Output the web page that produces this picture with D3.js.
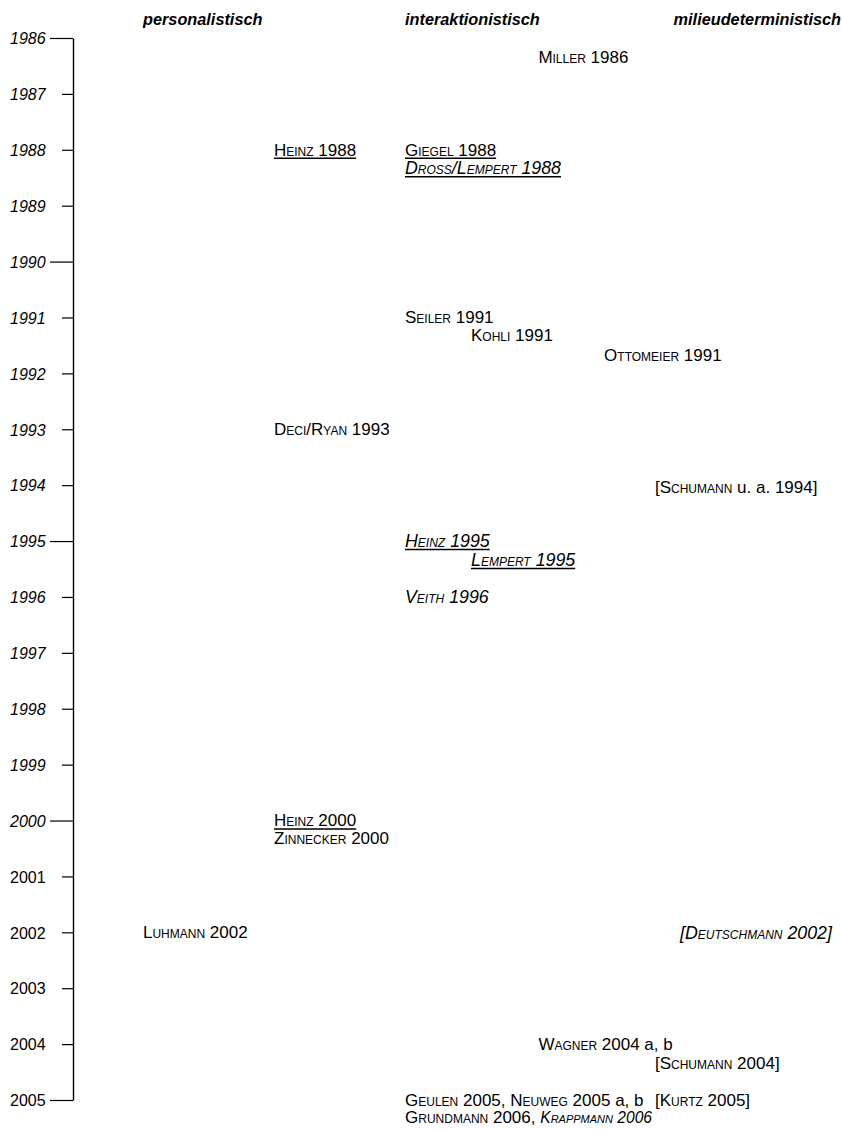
<!DOCTYPE html>
<html><head><meta charset="utf-8">
<script src="https://cdn.jsdelivr.net/npm/d3@7"></script>
<style>body{margin:0;background:#fff} text{font-family:"Liberation Sans",Arial,sans-serif;fill:#000}</style>
</head><body><svg id="c" width="842" height="1129"></svg>
<script>
// ---- data ----
const yearTicks = [1986,1987,1988,1989,1990,1991,1992,1993,1994,1995,1996,1997,1998,1999,2000,2001,2002,2003,2004,2005];
const majorYears = [1986,1990,1995,2000,2005];
const italicYears = [1986,1987,1988,1989,1990,1991,1992,1993,1994,1995,1996,1997,1998,1999,2000];
const columnNames = ["personalistisch","interaktionistisch","milieudeterministisch"];
const columnPos = [0,1,2];
// parts: [text, smallCaps, italic]
const entries = [
  {pos:1.485, year:1986.34, underline:false, parts:[["Miller",1,0],[" 1986",0,0]]},
  {pos:0.5,   year:1988.0,  underline:true,  parts:[["Heinz",1,0],[" 1988",0,0]]},
  {pos:1.0,   year:1988.0,  underline:true,  parts:[["Giegel",1,0],[" 1988",0,0]]},
  {pos:1.0,   year:1988.33, underline:true,  parts:[["Dross/Lempert",1,1],[" 1988",0,1]]},
  {pos:1.0,   year:1991.0,  underline:false, parts:[["Seiler",1,0],[" 1991",0,0]]},
  {pos:1.24,  year:1991.31, underline:false, parts:[["Kohli",1,0],[" 1991",0,0]]},
  {pos:1.724, year:1991.67, underline:false, parts:[["Ottomeier",1,0],[" 1991",0,0]]},
  {pos:0.5,   year:1993.0,  underline:false, parts:[["Deci/Ryan",1,0],[" 1993",0,0]]},
  {pos:1.909, year:1994.03, underline:false, parts:[["[",0,0],["Schumann",1,0],[" u. a. 1994]",0,0]]},
  {pos:1.0,   year:1995.0,  underline:true,  parts:[["Heinz",1,1],[" 1995",0,1]]},
  {pos:1.24,  year:1995.34, underline:true,  parts:[["Lempert",1,1],[" 1995",0,1]]},
  {pos:1.0,   year:1996.0,  underline:false, parts:[["Veith",1,1],[" 1996",0,1]]},
  {pos:0.5,   year:2000.0,  underline:true,  parts:[["Heinz",1,0],[" 2000",0,0]]},
  {pos:0.5,   year:2000.32, underline:false, parts:[["Zinnecker",1,0],[" 2000",0,0]]},
  {pos:0.0,   year:2002.0,  underline:false, parts:[["Luhmann",1,0],[" 2002",0,0]]},
  {pos:2.0,   year:2002.0,  underline:false, parts:[["[",0,1],["Deutschmann",1,1],[" 2002]",0,1]]},
  {pos:1.485, year:2004.0,  underline:false, parts:[["Wagner",1,0],[" 2004 a, b",0,0]]},
  {pos:1.909, year:2004.33, underline:false, parts:[["[",0,0],["Schumann",1,0],[" 2004]",0,0]]},
  {pos:1.0,   year:2005.0,  underline:false, parts:[["Geulen",1,0],[" 2005, ",0,0],["Neuweg",1,0],[" 2005 a, b",0,0]]},
  {pos:1.909, year:2005.0,  underline:false, parts:[["[",0,0],["Kurtz",1,0],[" 2005]",0,0]]},
  {pos:1.0,   year:2005.31, underline:false, parts:[["Grundmann",1,0],[" 2006, ",0,0],["Krappmann",1,1],[" 2006",0,1]]}
];

// ---- scales ----
const W = 842;
const svg = d3.select("#c");
const x = d3.scaleLinear().domain([0,1,2]).range([143,405,680]);
const y = d3.scaleLinear().domain([1986,2005]).range([38,1100]);
const axisX = 73;

// headers
svg.selectAll("text.hdr").data(columnNames).join("text")
  .attr("class","hdr")
  .attr("y",25)
  .style("font-size","16.3px").style("font-weight","bold").style("font-style","italic")
  .text(d=>d)
  .attr("x",function(d,i){
    const w = this.getComputedTextLength();
    return Math.min(x(columnPos[i]), W - 1 - w);
  });

// axis
const ax = svg.append("g").attr("transform",`translate(${axisX},0)`)
  .call(d3.axisLeft(y).tickValues(yearTicks).tickFormat(d3.format("d")).tickSize(11).tickSizeOuter(0));
ax.select(".domain").attr("stroke","#000").attr("stroke-width",1.4);
ax.selectAll(".tick line").attr("stroke","#000").attr("stroke-width",1.2)
  .attr("x2",d=>majorYears.includes(d)?-23:-11);
ax.selectAll(".tick text")
  .attr("x",-63).attr("dy","0.36em").attr("text-anchor","start")
  .attr("fill","#000")
  .style("font-family","'Liberation Sans',Arial,sans-serif")
  .style("font-size","16px")
  .style("font-style",d=>italicYears.includes(d)?"italic":"normal");

// entries
const g = svg.append("g");
entries.forEach(e=>{
  const allItalic = e.parts.every(p=>p[2]);
  const mixed = !allItalic && e.parts.some(p=>p[2]);
  const t = g.append("text")
    .attr("x",x(e.pos)).attr("y",y(e.year)).attr("dy","0.35em")
    .style("font-size", allItalic ? "17.8px" : "17px");
  e.parts.forEach(p=>{
    t.append("tspan").text(p[0])
      .style("font-variant",p[1]?"small-caps":"normal")
      .style("font-style",p[2]?"italic":"normal")
      .style("font-size", mixed && p[2] ? "15.6px" : null);
  });
  if(e.underline){
    const w = t.node().getComputedTextLength();
    g.append("line")
      .attr("x1",x(e.pos)).attr("x2",x(e.pos)+w)
      .attr("y1",y(e.year)+8.5).attr("y2",y(e.year)+8.5)
      .attr("stroke","#000").attr("stroke-width",1.6);
  }
});
</script></body></html>
